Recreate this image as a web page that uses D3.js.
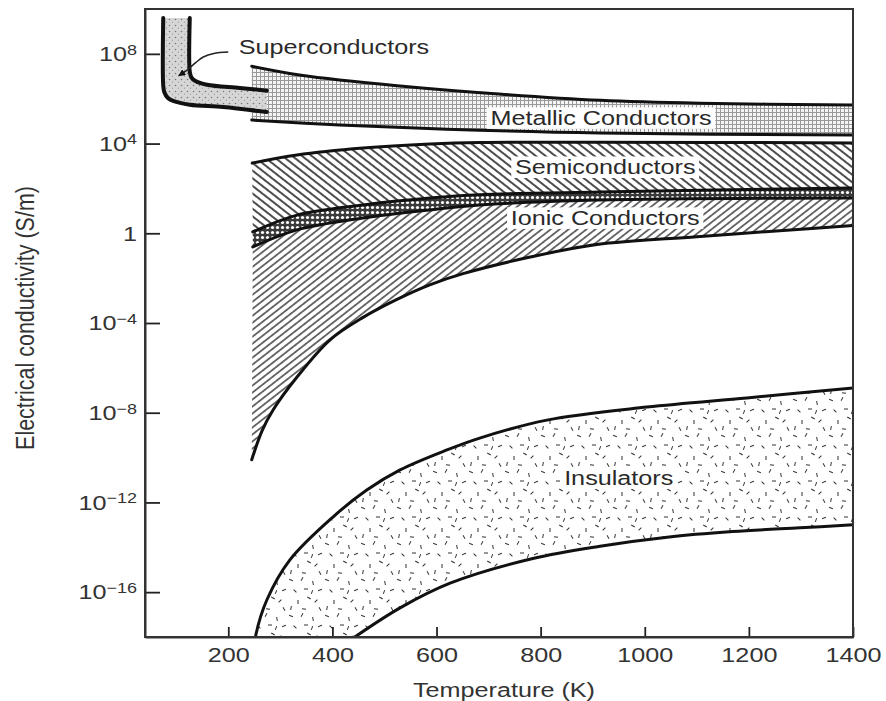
<!DOCTYPE html>
<html>
<head>
<meta charset="utf-8">
<script src="https://cdn.jsdelivr.net/npm/d3@7"></script>
<style>
  body { margin: 0; background: #fff; }
  svg text { font-family: "Liberation Sans", Arial, Helvetica, sans-serif; }
</style>
</head>
<body>
<svg width="886" height="701"></svg>
<script>
// band edges: [temperature (K), log10 of conductivity (S/m)]
var superOuter = [[75, 9.6], [75, 6.6], [77, 6.3], [84, 6.03], [94, 5.9], [126, 5.73], [190, 5.63], [274, 5.41]];
var superInner = [[126, 9.6], [126, 7.2], [129, 6.95], [136, 6.8], [159, 6.62], [222, 6.48], [274, 6.36]];
var metalHi = [[245, 7.45], [340, 7.05], [530, 6.57], [720, 6.21], [915, 5.93], [1105, 5.8], [1400, 5.72]];
var metalLo = [[245, 5.05], [414, 4.83], [620, 4.64], [914, 4.47], [1400, 4.38]];
var semiHi = [[246, 3.13], [332, 3.49], [459, 3.8], [587, 3.98], [683, 4.05], [914, 4.06], [1400, 4.03]];
var semiLo = [[247, 0.06], [332, 0.81], [459, 1.26], [587, 1.57], [683, 1.72], [914, 1.84], [1400, 2.02]];
var ionHi = [[247, -0.61], [332, 0.15], [459, 0.68], [587, 1.04], [683, 1.26], [914, 1.48], [1400, 1.57]];
var ionLo = [[245, -10.1], [265, -8.8], [286, -7.88], [332, -6.41], [395, -4.76], [459, -3.75], [524, -2.95],
             [587, -2.3], [651, -1.8], [780, -1.06], [908, -0.5], [1100, -0.15], [1300, 0.18], [1400, 0.35]];
var insHi = [[252, -18.1], [253, -17.9], [274, -16.35], [318, -14.57], [401, -12.65], [466, -11.45], [530, -10.55],
             [620, -9.66], [683, -9.13], [812, -8.33], [1004, -7.75], [1196, -7.34], [1400, -6.9]];
var insLo = [[443, -18], [530, -16.7], [626, -15.6], [785, -14.5], [914, -13.95], [1043, -13.55],
             [1169, -13.3], [1298, -13.13], [1400, -13.0]];
var leader = [[200, 8.08], [172, 8.02], [152, 7.86], [138, 7.62], [122, 7.3], [105, 7.03]];

var labelNames = ["Superconductors", "Metallic Conductors", "Semiconductors", "Ionic Conductors", "Insulators"];
var labelT = [403, 916, 924, 924, 950];
var labelE = [8.3, 5.14, 2.95, 0.68, -10.91];
var labelBox = [false, true, true, true, true];

var xTicks = [200, 400, 600, 800, 1000, 1200, 1400];
var yTicks = [1e8, 1e4, 1, 1e-4, 1e-8, 1e-12, 1e-16];

var svg = d3.select("svg");
var stretch = "scale(1.2,1)";   // the printed figure is a little wide

var x = d3.scaleLinear().domain([40, 1400]).range([145, 853]);
var y = d3.scaleLog().domain([1e-18, 1e10]).range([637, 9]);

var defs = svg.append("defs");
defs.append("clipPath").attr("id", "plotclip")
    .append("rect")
    .attr("x", x.range()[0]).attr("y", y.range()[1])
    .attr("width", x.range()[1] - x.range()[0]).attr("height", y.range()[0] - y.range()[1]);

// fills
var p = defs.append("pattern").attr("id", "metal").attr("patternUnits", "userSpaceOnUse")
    .attr("width", 4).attr("height", 4);
p.append("rect").attr("width", 4).attr("height", 4).attr("fill", "#f4f4f4");
p.append("path").attr("d", "M0,0.5H4M0.5,0V4").attr("stroke", "#999").attr("stroke-width", 1);

p = defs.append("pattern").attr("id", "super").attr("patternUnits", "userSpaceOnUse")
    .attr("width", 6).attr("height", 6);
p.append("rect").attr("width", 6).attr("height", 6).attr("fill", "#d6d6d6");
p.append("circle").attr("cx", 1.5).attr("cy", 1.5).attr("r", 0.8).attr("fill", "#777");
p.append("circle").attr("cx", 4.5).attr("cy", 4.2).attr("r", 0.6).attr("fill", "#999");

p = defs.append("pattern").attr("id", "semi").attr("patternUnits", "userSpaceOnUse")
    .attr("width", 6).attr("height", 6).attr("patternTransform", "rotate(38)");
p.append("rect").attr("width", 6).attr("height", 6).attr("fill", "#fff");
p.append("line").attr("x1", 0).attr("x2", 6).attr("y1", 3).attr("y2", 3)
    .attr("stroke", "#111").attr("stroke-width", 1.5);

p = defs.append("pattern").attr("id", "ionic").attr("patternUnits", "userSpaceOnUse")
    .attr("width", 5.5).attr("height", 5.5).attr("patternTransform", "rotate(-38)");
p.append("rect").attr("width", 5.5).attr("height", 5.5).attr("fill", "#fff");
p.append("line").attr("x1", 0).attr("x2", 5.5).attr("y1", 2.75).attr("y2", 2.75)
    .attr("stroke", "#111").attr("stroke-width", 1.2);

p = defs.append("pattern").attr("id", "dots").attr("patternUnits", "userSpaceOnUse")
    .attr("width", 5).attr("height", 5);
p.append("rect").attr("width", 5).attr("height", 5).attr("fill", "#3a3a3a");
p.append("circle").attr("cx", 2.5).attr("cy", 2.5).attr("r", 1.6).attr("fill", "#fff");

p = defs.append("pattern").attr("id", "ins").attr("patternUnits", "userSpaceOnUse")
    .attr("width", 36).attr("height", 36);
p.append("rect").attr("width", 36).attr("height", 36).attr("fill", "#fff");
[[3, 4, 20], [14, 3, -60], [25, 7, 80], [32, 14, -20], [7, 15, 45], [18, 13, 0], [28, 25, -45],
 [10, 26, 90], [21, 22, 30], [3, 32, -80], [16, 33, 10], [32, 33, 60], [24, 16, -70]].forEach(function (d) {
  p.append("line").attr("x1", -2).attr("x2", 2).attr("y1", 0).attr("y2", 0)
      .attr("transform", "translate(" + d[0] + "," + d[1] + ") rotate(" + d[2] + ")")
      .attr("stroke", "#333").attr("stroke-width", 1);
});

defs.append("marker").attr("id", "arrow").attr("viewBox", "0 0 10 10")
    .attr("refX", 9).attr("refY", 5).attr("markerWidth", 7).attr("markerHeight", 7)
    .attr("markerUnits", "userSpaceOnUse").attr("orient", "auto")
    .append("path").attr("d", "M0,0L10,5L0,10z").attr("fill", "#111");

var line = d3.line()
    .x(function (d) { return x(d[0]); })
    .y(function (d) { return y(Math.pow(10, d[1])); })
    .curve(d3.curveCatmullRom.alpha(0.5));

function band(top, bottom) {
  return line(top) + line(bottom.slice().reverse()).replace(/^M/, "L") + "Z";
}

var plot = svg.append("g").attr("clip-path", "url(#plotclip)");

plot.append("path").attr("d", band(insHi, insLo)).attr("fill", "url(#ins)");
plot.append("path").attr("d", band(ionHi, ionLo)).attr("fill", "url(#ionic)");
plot.append("path").attr("d", band(semiLo, ionHi)).attr("fill", "url(#dots)");
plot.append("path").attr("d", band(semiHi, semiLo)).attr("fill", "url(#semi)");
plot.append("path").attr("d", band(metalHi, metalLo)).attr("fill", "url(#metal)");

[insHi, insLo, ionLo, ionHi, semiLo, semiHi, metalLo, metalHi].forEach(function (b) {
  plot.append("path").attr("d", line(b)).attr("fill", "none")
      .attr("stroke", "#111").attr("stroke-width", 3).attr("stroke-linecap", "round");
});

plot.append("path").attr("d", band(superInner, superOuter)).attr("fill", "url(#super)");
[superOuter, superInner].forEach(function (b) {
  plot.append("path").attr("d", line(b)).attr("fill", "none")
      .attr("stroke", "#111").attr("stroke-width", 4).attr("stroke-linecap", "round");
});

plot.append("path").attr("d", line(leader)).attr("fill", "none")
    .attr("stroke", "#222").attr("stroke-width", 1.5).attr("marker-end", "url(#arrow)");

// labels
labelNames.forEach(function (name, i) {
  var g = svg.append("g")
      .attr("transform", "translate(" + x(labelT[i]) + "," + y(Math.pow(10, labelE[i])) + ") " + stretch);
  var bg = g.append("rect");
  var t = g.append("text").attr("text-anchor", "middle").attr("dy", "0.35em")
      .attr("font-size", "21px").attr("fill", "#2a2a2a").text(name);
  if (labelBox[i]) {
    var b = t.node().getBBox();
    bg.attr("x", b.x - 3).attr("y", b.y + 1).attr("width", b.width + 6).attr("height", b.height - 2)
        .attr("fill", "#fff");
  }
});

// axes
var xAxis = svg.append("g")
    .attr("transform", "translate(0," + y.range()[0] + ")")
    .call(d3.axisBottom(x).tickValues(xTicks).tickFormat(d3.format("d"))
        .tickSizeInner(-10).tickSizeOuter(0).tickPadding(10));
xAxis.selectAll("text").attr("font-size", "21px").attr("fill", "#333").attr("transform", stretch);

var yAxis = svg.append("g")
    .attr("transform", "translate(" + x.range()[0] + ",0)")
    .call(d3.axisLeft(y).tickValues(yTicks).tickSizeInner(-15).tickSizeOuter(0).tickPadding(6.7));
yAxis.selectAll("text").attr("font-size", "21px").attr("fill", "#333").attr("transform", stretch)
    .each(function (d) {
      var e = Math.round(Math.log10(d));
      var t = d3.select(this).text(null);
      if (e === 0) { t.text("1"); return; }
      t.append("tspan").text("10");
      t.append("tspan").attr("dy", "-0.42em").attr("font-size", "15px")
          .text(String(e).replace("-", "\u2212"));
    });

[xAxis, yAxis].forEach(function (a) {
  a.selectAll(".tick line").attr("stroke", "#222").attr("stroke-width", 1.8);
  a.select(".domain").attr("stroke", "#333").attr("stroke-width", 2);
});

svg.append("rect")
    .attr("x", x.range()[0]).attr("y", y.range()[1])
    .attr("width", x.range()[1] - x.range()[0]).attr("height", y.range()[0] - y.range()[1])
    .attr("fill", "none").attr("stroke", "#333").attr("stroke-width", 2);

svg.append("text")
    .attr("transform", "translate(" + ((x.range()[0] + x.range()[1]) / 2 + 5) + ",697) " + stretch)
    .attr("text-anchor", "middle").attr("font-size", "21px").attr("fill", "#333")
    .text("Temperature (K)");

svg.append("text")
    .attr("transform", "translate(34," + ((y.range()[0] + y.range()[1]) / 2 - 5) + ") " + stretch + " rotate(-90)")
    .attr("text-anchor", "middle").attr("font-size", "21.5px").attr("fill", "#333")
    .text("Electrical conductivity (S/m)");
</script>
</body>
</html>
